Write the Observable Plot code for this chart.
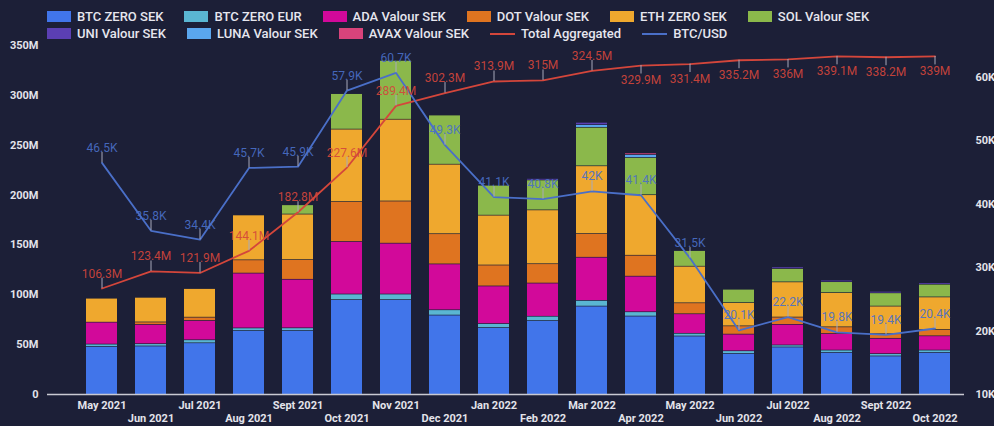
<!DOCTYPE html>
<html><head><meta charset="utf-8">
<script src="https://cdn.jsdelivr.net/npm/d3@7"></script>
<script src="https://cdn.jsdelivr.net/npm/@observablehq/plot@0.6"></script>
<style>
html,body{margin:0;padding:0;background:#1c1f37;}
#wrap{position:relative;width:994px;height:426px;overflow:hidden;font-family:Roboto,"Noto Sans",sans-serif;background:#1c1f37;}
#legend{position:absolute;left:47px;top:7.5px;z-index:2;}
.lrow{display:flex;gap:21px;height:17.5px;align-items:center;}
.item{display:flex;align-items:center;gap:6px;color:#e6e6ee;font-size:13px;font-weight:500;white-space:nowrap;}
.sw{width:24px;height:11px;}
.ln{width:25px;height:2px;}
#wrap svg{position:absolute;left:0;top:0;}
</style></head><body><div id="wrap"><div id="legend"></div></div>
<script>
const months = ["May 2021","Jun 2021","Jul 2021","Aug 2021","Sept 2021","Oct 2021","Nov 2021","Dec 2021","Jan 2022","Feb 2022","Mar 2022","Apr 2022","May 2022","Jun 2022","Jul 2022","Aug 2022","Sept 2022","Oct 2022"];

// values in millions SEK
const btcZeroSek = [48, 48.5, 51.7, 64, 64, 95, 95, 79.5, 67, 74, 88.5, 78.5, 58.5, 41, 47.5, 42, 38.5, 42];
const btcZeroEur = [2.4, 2.3, 3, 2.6, 2.7, 5.6, 5.6, 5.3, 4, 4.3, 5.7, 4.3, 2.7, 2.7, 2, 2.4, 2.3, 2.4];
const adaValour  = [22, 19.3, 19.4, 55, 48.7, 52.7, 51, 46, 37.7, 33.3, 43.3, 35.7, 19.6, 16.7, 20.7, 16.6, 15.4, 14.3];
const dotValour  = [0, 2.5, 3.3, 13.3, 19.7, 40, 42.3, 30.3, 21, 19.4, 23.7, 21, 11, 8.3, 7.3, 6.7, 4.6, 6.3];
const ethZeroSek = [24, 24.7, 28.7, 45, 45.7, 72.7, 82, 69.7, 50, 54, 68, 60.7, 36.7, 23.3, 35.3, 34.3, 27.7, 32.7];
const solValour  = [0, 0, 0, 0, 9.3, 35.6, 59, 49.3, 30, 30, 38.6, 37.3, 15.7, 13.4, 13.4, 11, 13.3, 12.7];
const lunaValour = [0, 0, 0, 0, 0, 0, 0, 0, 0, 0, 2.7, 3, 0, 0, 0, 0, 0, 0];
const uniValour  = [0, 0, 0, 0, 0, 0, 0, 0, 0, 1.5, 2.3, 0, 0, 0, 1.6, 1.5, 1.5, 1.5];
const avaxValour = [0, 0, 0, 0, 0, 0, 0, 0, 0, 0, 0, 1.6, 0, 0, 0, 0, 0, 0];

const totalAggregated = [106.3, 123.4, 121.9, 144.1, 182.8, 227.6, 289.4, 302.3, 313.9, 315, 324.5, 329.9, 331.4, 335.2, 336, 339.1, 338.2, 339];
const btcUsd = [46.5, 35.8, 34.4, 45.7, 45.9, 57.9, 60.7, 49.3, 41.1, 40.8, 42, 41.4, 31.5, 20.1, 22.2, 19.8, 19.4, 20.4]; // thousands USD

const leftTicks = [0, 50, 100, 150, 200, 250, 300, 350];
const rightTicks = [10, 20, 30, 40, 50, 60];

const series = [
  {name: "BTC ZERO SEK", values: btcZeroSek, color: "#4175ea"},
  {name: "BTC ZERO EUR", values: btcZeroEur, color: "#5ab6d2"},
  {name: "ADA Valour SEK", values: adaValour, color: "#d2099a"},
  {name: "DOT Valour SEK", values: dotValour, color: "#df7420"},
  {name: "ETH ZERO SEK", values: ethZeroSek, color: "#efa82e"},
  {name: "SOL Valour SEK", values: solValour, color: "#8bb84b"},
  {name: "LUNA Valour SEK", values: lunaValour, color: "#5aa6ee"},
  {name: "UNI Valour SEK", values: uniValour, color: "#5b3fb3"},
  {name: "AVAX Valour SEK", values: avaxValour, color: "#d8437b"}
];
const totalColor = "#d4463b";
const btcColor = "#4a6fc8";

// legend
const legendRows = [
  ["BTC ZERO SEK","BTC ZERO EUR","ADA Valour SEK","DOT Valour SEK","ETH ZERO SEK","SOL Valour SEK"],
  ["UNI Valour SEK","LUNA Valour SEK","AVAX Valour SEK","Total Aggregated","BTC/USD"]
];
const legend = document.getElementById("legend");
for (const r of legendRows) {
  const row = document.createElement("div"); row.className = "lrow";
  for (const name of r) {
    const it = document.createElement("div"); it.className = "item";
    const s = series.find(d => d.name === name);
    const sw = document.createElement("span");
    if (s) { sw.className = "sw"; sw.style.background = s.color; }
    else { sw.className = "ln"; sw.style.background = name === "BTC/USD" ? btcColor : totalColor; }
    const t = document.createElement("span"); t.textContent = name;
    it.append(sw, t); row.append(it);
  }
  legend.append(row);
}

// tables
const rows = [];
for (const s of series) months.forEach((m, i) => rows.push({month: m, series: s.name, value: s.values[i]}));
const toLeft = k => (k - 10) * 350 / 55;
const fromLeft = v => v * 55 / 350 + 10;
const totalRows = months.map((m, i) => ({month: m, value: totalAggregated[i], above: i < 11}));
const btcRows = months.map((m, i) => ({month: m, k: btcUsd[i], value: toLeft(btcUsd[i])}));
const even = months.filter((m, i) => i % 2 === 0);
const odd = months.filter((m, i) => i % 2 === 1);

const chart = Plot.plot({
  width: 994, height: 426,
  marginTop: 45, marginBottom: 32, marginLeft: 71, marginRight: 30,
  style: {background: "transparent", color: "#e3e3ea", fontFamily: "Roboto, sans-serif", fontSize: "11px", fontWeight: "bold"},
  x: {domain: months, paddingInner: 0.375, paddingOuter: 0.1875, axis: null},
  y: {domain: [0, 350], axis: null},
  color: {domain: series.map(d => d.name), range: series.map(d => d.color)},
  marks: [
    Plot.barY(rows, {x: "month", y: "value", fill: "series", insetTop: 0.7}),
    Plot.ruleY([0], {stroke: "#c9c9d2", strokeWidth: 1.5, insetLeft: -24}),
    Plot.axisY({ticks: leftTicks, tickSize: 0, tickPadding: 33, label: null, tickFormat: d => d === 0 ? "0" : d + "M"}),
    Plot.axisY({anchor: "right", ticks: rightTicks.map(toLeft), tickSize: 0, tickPadding: 11, label: null, tickFormat: d => Math.round(fromLeft(d)) + "K"}),
    Plot.axisX({ticks: even, tickSize: 0, tickPadding: 7, label: null, tickFormat: d => d}),
    Plot.axisX({ticks: odd, tickSize: 0, tickPadding: 20, label: null, tickFormat: d => d}),
    Plot.line(totalRows, {x: "month", y: "value", stroke: totalColor, strokeWidth: 1.8}),
    Plot.line(btcRows, {x: "month", y: "value", stroke: btcColor, strokeWidth: 1.8}),
    Plot.ruleX(totalRows, {x: "month", y1: "value", y2: d => d.above ? d.value + 10.5 : d.value - 8.5, stroke: "#a7a9bb", strokeWidth: 1}),
    Plot.ruleX(btcRows, {x: "month", y1: "value", y2: d => d.value + 10.5, stroke: "#a7a9bb", strokeWidth: 1}),
    Plot.text(totalRows.filter(d => d.above), {x: "month", y: "value", text: d => d.value + "M", dy: -11, lineAnchor: "bottom", fill: totalColor, fontSize: 12, fontWeight: "normal", fillOpacity: 0.92}),
    Plot.text(totalRows.filter(d => !d.above), {x: "month", y: "value", text: d => d.value + "M", dy: 10, lineAnchor: "top", fill: totalColor, fontSize: 12, fontWeight: "normal", fillOpacity: 0.92}),
    Plot.text(btcRows, {x: "month", y: "value", text: d => d.k + "K", dy: -11, lineAnchor: "bottom", fill: btcColor, fontSize: 12, fontWeight: "normal", fillOpacity: 0.92})
  ]
});
document.getElementById("wrap").append(chart);
</script></body></html>
